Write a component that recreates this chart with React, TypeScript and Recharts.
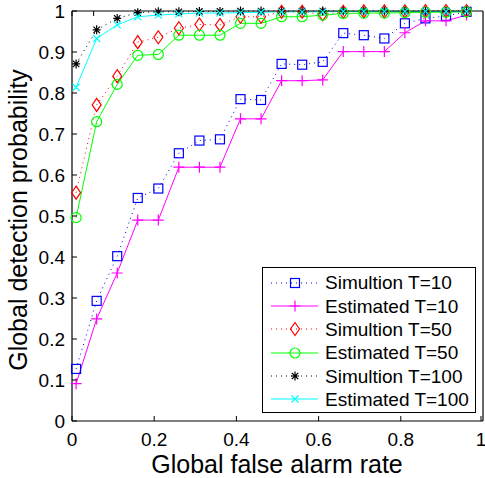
import { Legend, Line, LineChart, XAxis, YAxis } from "recharts"

// false alarm rate sampled at each threshold
const falseAlarm = [
  0.01, 0.06, 0.11, 0.16, 0.21, 0.26, 0.31, 0.36, 0.41, 0.46,
  0.51, 0.56, 0.61, 0.66, 0.71, 0.76, 0.81, 0.86, 0.91, 0.96,
]

const simT10 = [
  0.127, 0.293, 0.402, 0.544, 0.567, 0.653, 0.684, 0.687, 0.785, 0.783,
  0.871, 0.869, 0.876, 0.946, 0.941, 0.933, 0.97, 0.982, 0.988, 0.998,
]
const estT10 = [
  0.091, 0.249, 0.361, 0.49, 0.49, 0.619, 0.619, 0.619, 0.737, 0.737,
  0.83, 0.83, 0.832, 0.901, 0.901, 0.901, 0.947, 0.976, 0.976, 0.99,
]
const simT50 = [
  0.557, 0.771, 0.841, 0.924, 0.936, 0.958, 0.967, 0.966, 0.986, 0.986,
  0.998, 0.998, 0.992, 0.998, 0.999, 0.999, 0.999, 1, 1, 1,
]
const estT50 = [
  0.496, 0.73, 0.821, 0.892, 0.894, 0.941, 0.941, 0.941, 0.97, 0.97,
  0.986, 0.986, 0.99, 0.994, 0.995, 0.995, 0.996, 0.997, 0.997, 0.998,
]
const simT100 = [
  0.871, 0.954, 0.982, 0.996, 0.998, 0.998, 0.999, 0.999, 1, 1,
  1, 1, 1, 1, 1, 1, 1, 1, 1, 1,
]
const estT100 = [
  0.814, 0.933, 0.966, 0.986, 0.99, 0.993, 0.995, 0.995, 0.996, 0.997,
  0.998, 0.998, 0.998, 0.999, 0.999, 0.999, 0.999, 0.999, 0.999, 0.999,
]

const xTicks = [0, 0.2, 0.4, 0.6, 0.8, 1]
const yTicks = [0, 0.1, 0.2, 0.3, 0.4, 0.5, 0.6, 0.7, 0.8, 0.9, 1]

type MarkerType = "square" | "plus" | "diamond" | "circle" | "star" | "cross"

const SERIES: { key: string; name: string; color: string; marker: MarkerType; dotted: boolean }[] = [
  { key: "simT10", name: "Simultion T=10", color: "#0000ff", marker: "square", dotted: true },
  { key: "estT10", name: "Estimated T=10", color: "#ff00ff", marker: "plus", dotted: false },
  { key: "simT50", name: "Simultion T=50", color: "#ff0000", marker: "diamond", dotted: true },
  { key: "estT50", name: "Estimated T=50", color: "#00ff00", marker: "circle", dotted: false },
  { key: "simT100", name: "Simultion T=100", color: "#000000", marker: "star", dotted: true },
  { key: "estT100", name: "Estimated T=100", color: "#00ffff", marker: "cross", dotted: false },
]

const data = falseAlarm.map((x, i) => ({
  x,
  simT10: simT10[i],
  estT10: estT10[i],
  simT50: simT50[i],
  estT50: estT50[i],
  simT100: simT100[i],
  estT100: estT100[i],
}))

const FONT = "'Liberation Sans', Arial, Helvetica, sans-serif"
const TICK_FONT = 19
const LABEL_FONT = 25
const TICK_LEN = 5

function Marker({ type, cx, cy, color }: { type: MarkerType; cx: number; cy: number; color: string }) {
  switch (type) {
    case "square":
      return <rect x={cx - 4.5} y={cy - 4.5} width={9} height={9} fill="none" stroke={color} strokeWidth={1.2} />
    case "plus":
      return (
        <path d={`M${cx - 5.5},${cy}H${cx + 5.5}M${cx},${cy - 5.5}V${cy + 5.5}`} stroke={color} strokeWidth={1.2} />
      )
    case "diamond":
      return (
        <path
          d={`M${cx},${cy - 6.5}L${cx + 4.5},${cy}L${cx},${cy + 6.5}L${cx - 4.5},${cy}Z`}
          fill="none"
          stroke={color}
          strokeWidth={1.2}
        />
      )
    case "circle":
      return <circle cx={cx} cy={cy} r={5} fill="none" stroke={color} strokeWidth={1.2} />
    case "star":
      return (
        <path
          d={`M${cx - 4},${cy}H${cx + 4}M${cx},${cy - 4.5}V${cy + 4.5}M${cx - 3.2},${cy - 3.2}L${cx + 3.2},${cy + 3.2}M${cx - 3.2},${cy + 3.2}L${cx + 3.2},${cy - 3.2}`}
          stroke={color}
          strokeWidth={1.2}
        />
      )
    case "cross":
      return (
        <path
          d={`M${cx - 3.5},${cy - 3.5}L${cx + 3.5},${cy + 3.5}M${cx - 3.5},${cy + 3.5}L${cx + 3.5},${cy - 3.5}`}
          stroke={color}
          strokeWidth={1.2}
        />
      )
  }
  return null
}

const fmt = (v: number) => String(v)

const LeftTick = ({ x, y, payload }: any) => (
  <g>
    <line x1={x} y1={y} x2={x + TICK_LEN} y2={y} stroke="#000" />
    <text x={x - 7} y={y} dy="0.36em" textAnchor="end" fontSize={TICK_FONT} fontFamily={FONT} fill="#000">
      {fmt(payload.value)}
    </text>
  </g>
)

const BottomTick = ({ x, y, payload }: any) => (
  <g>
    <line x1={x} y1={y} x2={x} y2={y - TICK_LEN} stroke="#000" />
    <text x={x} y={y + 25} textAnchor="middle" fontSize={TICK_FONT} fontFamily={FONT} fill="#000">
      {fmt(payload.value)}
    </text>
  </g>
)

const TopTick = ({ x, y }: any) => <line x1={x} y1={y} x2={x} y2={y + TICK_LEN} stroke="#000" />

const RightTick = ({ x, y }: any) => <line x1={x} y1={y} x2={x - TICK_LEN} y2={y} stroke="#000" />

const renderLegend = () => (
  <div
    style={{
      boxSizing: "border-box",
      width: 214,
      height: 146,
      border: "1px solid #000",
      background: "#fff",
      paddingTop: 3,
      fontFamily: FONT,
    }}
  >
    {SERIES.map((s) => (
      <div key={s.key} style={{ display: "flex", alignItems: "center", height: 23.35 }}>
        <svg width={58} height={20} style={{ display: "block" }}>
          <line
            x1={8}
            x2={55}
            y1={10}
            y2={10}
            stroke={s.color}
            strokeWidth={1}
            strokeDasharray={s.dotted ? "1 4" : undefined}
          />
          <Marker type={s.marker} cx={32} cy={10} color={s.color} />
        </svg>
        <span style={{ fontSize: TICK_FONT, marginLeft: 4, lineHeight: 1, color: "#000" }}>{s.name}</span>
      </div>
    ))}
  </div>
)

export default function App() {
  return (
    <div style={{ position: "absolute", left: 0, top: 0, width: 485, height: 478, background: "#fff" }}>
      <LineChart width={485} height={478} data={data} margin={{ top: 10, right: 0, bottom: 0, left: 0 }}>
        <XAxis
          dataKey="x"
          type="number"
          domain={[0, 1]}
          ticks={xTicks}
          height={57}
          tickSize={0}
          tickMargin={0}
          tickLine={false}
          tick={<BottomTick />}
          axisLine={{ stroke: "#000", strokeWidth: 1.2 }}
          label={{
            content: () => (
              <text x={277} y={473} textAnchor="middle" fontSize={LABEL_FONT} fontFamily={FONT} fill="#000">
                Global false alarm rate
              </text>
            ),
          }}
        />
        <XAxis
          xAxisId="top"
          orientation="top"
          type="number"
          domain={[0, 1]}
          ticks={xTicks}
          height={1}
          tickSize={0}
          tickMargin={0}
          tickLine={false}
          tick={<TopTick />}
          axisLine={{ stroke: "#000", strokeWidth: 1.2 }}
        />
        <YAxis
          type="number"
          domain={[0, 1]}
          ticks={yTicks}
          width={72}
          tickSize={0}
          tickMargin={0}
          tickLine={false}
          tick={<LeftTick />}
          axisLine={{ stroke: "#000", strokeWidth: 1.2 }}
          label={{
            content: () => (
              <text
                transform="rotate(-90)"
                x={-220}
                y={27}
                textAnchor="middle"
                fontSize={LABEL_FONT}
                fontFamily={FONT}
                fill="#000"
              >
                Global detection probability
              </text>
            ),
          }}
        />
        <YAxis
          yAxisId="right"
          orientation="right"
          type="number"
          domain={[0, 1]}
          ticks={yTicks}
          width={2}
          tickSize={0}
          tickMargin={0}
          tickLine={false}
          tick={<RightTick />}
          axisLine={{ stroke: "#000", strokeWidth: 1.2 }}
        />
        {SERIES.map((s) => (
          <Line
            key={s.key}
            dataKey={s.key}
            name={s.name}
            type="linear"
            stroke={s.color}
            strokeWidth={1}
            strokeDasharray={s.dotted ? "1 4" : undefined}
            isAnimationActive={false}
            activeDot={false}
            dot={(p: any) => <Marker key={`${s.key}-${p.index}`} type={s.marker} cx={p.cx} cy={p.cy} color={s.color} />}
          />
        ))}
        <Legend
          layout="vertical"
          align="center"
          verticalAlign="middle"
          content={renderLegend}
          wrapperStyle={{ left: 262, top: 267, width: 214 }}
        />
      </LineChart>
    </div>
  )
}
